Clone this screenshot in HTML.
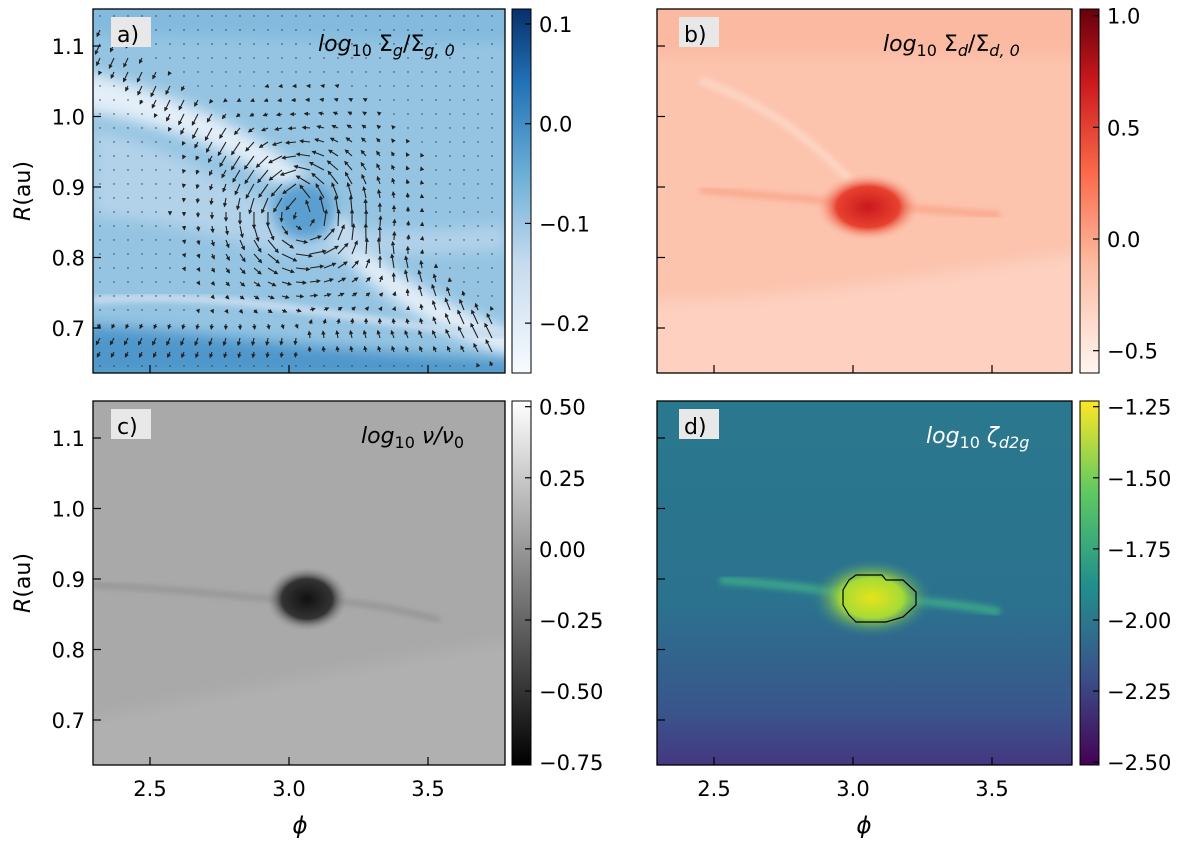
<!DOCTYPE html>
<html><head><meta charset="utf-8"><style>
body{margin:0;background:#fff;width:1200px;height:843px;overflow:hidden}
svg text{font-family:"DejaVu Sans","Liberation Sans",sans-serif}
</style></head><body>
<svg id="fig" width="1200" height="843" viewBox="0 0 1200 843" xmlns="http://www.w3.org/2000/svg">
<defs>
<linearGradient id="cbBlue" x1="0" y1="1" x2="0" y2="0"><stop offset="0" stop-color="#f7fbff"/><stop offset="0.3" stop-color="#c6dbef"/><stop offset="0.55" stop-color="#6baed6"/><stop offset="0.8" stop-color="#2171b5"/><stop offset="1" stop-color="#08306b"/></linearGradient>
<linearGradient id="cbRed" x1="0" y1="1" x2="0" y2="0"><stop offset="0" stop-color="#fff5f0"/><stop offset="0.3" stop-color="#fcbba1"/><stop offset="0.55" stop-color="#fb6a4a"/><stop offset="0.8" stop-color="#cb181d"/><stop offset="1" stop-color="#67000d"/></linearGradient>
<linearGradient id="cbGray" x1="0" y1="1" x2="0" y2="0"><stop offset="0" stop-color="#000"/><stop offset="1" stop-color="#fff"/></linearGradient>
<linearGradient id="cbVir" x1="0" y1="1" x2="0" y2="0"><stop offset="0" stop-color="#440154"/><stop offset="0.25" stop-color="#3b528b"/><stop offset="0.5" stop-color="#21918c"/><stop offset="0.75" stop-color="#5ec962"/><stop offset="1" stop-color="#fde725"/></linearGradient>
<linearGradient id="bgD" x1="0" y1="0" x2="0" y2="1"><stop offset="0" stop-color="#2a788e"/><stop offset="0.55" stop-color="#2b728e"/><stop offset="0.85" stop-color="#39568c"/><stop offset="1" stop-color="#453781"/></linearGradient>
<radialGradient id="blobB"><stop offset="0" stop-color="#c9181d"/><stop offset="0.6" stop-color="#e8412f"/><stop offset="1" stop-color="#fcbba1" stop-opacity="0"/></radialGradient>
<radialGradient id="blobC"><stop offset="0" stop-color="#111"/><stop offset="0.6" stop-color="#333"/><stop offset="1" stop-color="#a8a8a8" stop-opacity="0"/></radialGradient>
<radialGradient id="blobD"><stop offset="0" stop-color="#e6e419"/><stop offset="0.5" stop-color="#a5db36"/><stop offset="1" stop-color="#2a788e" stop-opacity="0"/></radialGradient>
<clipPath id="clipA"><rect x="93" y="9" width="412" height="364"/></clipPath>
<clipPath id="clipB"><rect x="657" y="9" width="415" height="364"/></clipPath>
<clipPath id="clipC"><rect x="93" y="401" width="412" height="364"/></clipPath>
<clipPath id="clipD"><rect x="657" y="401" width="415" height="364"/></clipPath>
<filter id="blur6" x="-20%" y="-20%" width="140%" height="140%"><feGaussianBlur stdDeviation="7"/></filter>
<filter id="blur3"><feGaussianBlur stdDeviation="3"/></filter>
<marker id="ah" markerWidth="4" markerHeight="4" refX="3" refY="2" orient="auto"><path d="M0,0 L4,2 L0,4 z" fill="#222"/></marker>
</defs>

<!-- Panel a -->
<g>
<g clip-path="url(#clipA)">
<rect x="93" y="9" width="412" height="364" fill="#94c4e2"/>
<path d="M80,70 C180,95 250,130 300,170 C330,195 350,240 400,275 C440,300 480,320 520,335 L520,360 C470,345 420,320 380,290 C330,250 310,205 280,185 C230,150 170,125 80,110 Z" fill="#e3eef8" filter="url(#blur6)"/>
<path d="M93,130 C200,150 250,210 330,225 C400,235 450,230 505,225 L505,250 C400,255 300,260 250,245 C200,230 150,220 93,215 Z" fill="#bad6ec" filter="url(#blur6)" opacity="0.8"/>
<path d="M80,325 C200,330 300,350 520,360 L520,380 L80,380 Z" fill="#4f97cb" filter="url(#blur6)"/>
<path d="M93,300 C250,290 330,320 505,335" stroke="#c6dbef" stroke-width="8" fill="none" filter="url(#blur3)"/>
<ellipse cx="305" cy="210" rx="32" ry="30" fill="#5a9fd0" filter="url(#blur6)"/>
<path d="M80,0 L520,0 L520,40 C400,45 300,35 80,35Z" fill="#7bb6dc" filter="url(#blur6)" opacity="0.7"/>
<g id="quiver"></g>
</g>
<rect x="93" y="9" width="412" height="364" fill="none" stroke="#000" stroke-width="1.3"/>
<rect x="111" y="17" width="40" height="30" fill="#e8e8e8"/>
<text x="117" y="42" font-size="22" font-family="Liberation Serif">a)</text>
<text x="318" y="51" font-size="22"><tspan font-style="italic">log</tspan><tspan font-size="16" dy="5">10</tspan><tspan dy="-5"> Σ</tspan><tspan font-size="16" dy="5" font-style="italic">g</tspan><tspan dy="-5">/Σ</tspan><tspan font-size="16" dy="5" font-style="italic">g, 0</tspan></text>
<rect x="512" y="9" width="19" height="364" fill="url(#cbBlue)" stroke="#000"/>
</g>

<!-- Panel b -->
<g>
<g clip-path="url(#clipB)">
<rect x="657" y="9" width="415" height="364" fill="#fcc3ad"/>
<path d="M640,0 L1090,0 L1090,55 L640,55Z" fill="#fbb9a2" filter="url(#blur6)"/>
<path d="M640,300 C800,300 950,270 1090,250 L1090,390 L640,390Z" fill="#fdd0bf" filter="url(#blur6)"/>
<path d="M700,80 C780,110 820,150 850,180" stroke="#fdd5c5" stroke-width="8" fill="none" filter="url(#blur3)"/>
<path d="M700,190 C800,198 900,208 1000,215" stroke="#f9a68a" stroke-width="6" fill="none" filter="url(#blur3)"/>
<ellipse cx="868" cy="207" rx="52" ry="34" fill="url(#blobB)"/>
</g>
<rect x="657" y="9" width="415" height="364" fill="none" stroke="#000" stroke-width="1.3"/>
<rect x="679" y="17" width="40" height="30" fill="#e8e8e8"/>
<text x="684" y="42" font-size="22" font-family="Liberation Serif">b)</text>
<text x="883" y="51" font-size="22"><tspan font-style="italic">log</tspan><tspan font-size="16" dy="5">10</tspan><tspan dy="-5"> Σ</tspan><tspan font-size="16" dy="5" font-style="italic">d</tspan><tspan dy="-5">/Σ</tspan><tspan font-size="16" dy="5" font-style="italic">d, 0</tspan></text>
<rect x="1080" y="9" width="19" height="364" fill="url(#cbRed)" stroke="#000"/>
</g>

<!-- Panel c -->
<g>
<g clip-path="url(#clipC)">
<rect x="93" y="401" width="412" height="364" fill="#a9a9a9"/>
<path d="M80,720 C250,690 380,660 520,640 L520,780 L80,780Z" fill="#b0b0b0" filter="url(#blur6)"/>
<path d="M93,585 C200,590 260,600 300,600 C360,600 400,610 440,620" stroke="#939393" stroke-width="5" fill="none" filter="url(#blur3)"/>
<ellipse cx="307" cy="599" rx="42" ry="33" fill="url(#blobC)"/>
</g>
<rect x="93" y="401" width="412" height="364" fill="none" stroke="#000" stroke-width="1.3"/>
<rect x="111" y="409" width="40" height="30" fill="#e8e8e8"/>
<text x="117" y="434" font-size="22" font-family="Liberation Serif">c)</text>
<text x="361" y="443" font-size="22"><tspan font-style="italic">log</tspan><tspan font-size="16" dy="5">10</tspan><tspan dy="-5" font-style="italic"> ν/ν</tspan><tspan font-size="16" dy="5">0</tspan></text>
<rect x="512" y="401" width="19" height="364" fill="url(#cbGray)" stroke="#000"/>
</g>

<!-- Panel d -->
<g>
<g clip-path="url(#clipD)">
<rect x="657" y="401" width="415" height="364" fill="url(#bgD)"/>
<path d="M720,580 C800,585 850,595 880,598 C940,602 980,608 1000,612" stroke="#3aa58a" stroke-width="8" fill="none" filter="url(#blur3)"/>
<ellipse cx="872" cy="598" rx="62" ry="40" fill="url(#blobD)"/>
<path d="M856,575 L882,575 L886,580 L903,580 L916,592 L916,605 L903,617 L886,622 L856,622 L849,615 L843,605 L843,590 L849,580 Z" fill="none" stroke="#000" stroke-width="1.2"/>
</g>
<rect x="657" y="401" width="415" height="364" fill="none" stroke="#000" stroke-width="1.3"/>
<rect x="679" y="409" width="40" height="30" fill="#e8e8e8"/>
<text x="684" y="434" font-size="22" font-family="Liberation Serif">d)</text>
<text x="926" y="443" font-size="22" fill="#fff"><tspan font-style="italic">log</tspan><tspan font-size="16" dy="5">10</tspan><tspan dy="-5" font-style="italic"> ζ</tspan><tspan font-size="16" dy="5" font-style="italic">d2g</tspan></text>
<rect x="1080" y="401" width="19" height="364" fill="url(#cbVir)" stroke="#000"/>
</g>
<g id="axes"></g>
</svg>
<script>
const xTicks=[2.5,3.0,3.5];
const yTicks=[0.7,0.8,0.9,1.0,1.1];
const cbA=[0.1,0.0,-0.1,-0.2];const cbARange=[-0.25,0.115];
const cbB=[1.0,0.5,0.0,-0.5];const cbBRange=[-0.6,1.03];
const cbC=[0.50,0.25,0.00,-0.25,-0.50,-0.75];const cbCRange=[-0.76,0.52];
const cbD=[-1.25,-1.50,-1.75,-2.00,-2.25,-2.50];const cbDRange=[-2.51,-1.23];
const NS='http://www.w3.org/2000/svg';
const ax=document.getElementById('axes');
function xs(v,x0){return x0+(v-2.5)*278+57;}
function ys(v,y0){return y0+(1.1-v)*705+37;}
function mk(tag,a,txt){const e=document.createElementNS(NS,tag);for(const k in a)e.setAttribute(k,a[k]);if(txt!==undefined)e.textContent=txt;ax.appendChild(e);return e;}
const fmt=v=>(v<0?'\u2212':'')+Math.abs(v).toFixed(1);
const fmt2=v=>(v<0?'\u2212':'')+Math.abs(v).toFixed(2);
const panels=[[93,9,true,true],[657,9,false,true],[93,401,true,false],[657,401,false,false]];
panels.forEach(([x0,y0,left,top])=>{
 xTicks.forEach(v=>{const x=xs(v,x0);
  let t=mk('line',{x1:x,x2:x,y1:y0+364,y2:y0+356,stroke:'#000','stroke-width':1.2});
  
  if(!top){let l=mk('text',{x:x,y:y0+395,'font-size':21,'text-anchor':'middle'},v.toFixed(1));
  }});
 yTicks.forEach(v=>{const y=ys(v,y0);
  let t=mk('line',{x1:x0,x2:x0+8,y1:y,y2:y,stroke:'#000','stroke-width':1.2});
  
  if(left){let l=mk('text',{x:x0-8,y:y+8,'font-size':21,'text-anchor':'end'},v.toFixed(1));
  }});
 if(left){let t=mk('text',{x:30,y:y0+182,'font-size':22,'text-anchor':'middle',transform:`rotate(-90 30 ${y0+182})`});
  t.innerHTML='<tspan font-style="italic">R</tspan>(au)';
  }
 if(!top){let t=mk('text',{x:x0+207,y:y0+432,'font-size':23,'text-anchor':'middle','font-style':'italic'},'\u03d5');
  }
});
function cbar(ticks,range,x0,y0,f){ticks.forEach(v=>{const y=y0+364-(v-range[0])/(range[1]-range[0])*364;
 let t=mk('line',{x1:x0+19,x2:x0+13,y1:y,y2:y,stroke:'#000','stroke-width':1.2});
 
 let l=mk('text',{x:x0+27,y:y+8,'font-size':21},f(v));
 });}
cbar(cbA,cbARange,512,9,fmt);cbar(cbB,cbBRange,1080,9,fmt);cbar(cbC,cbCRange,512,401,fmt2);cbar(cbD,cbDRange,1080,401,fmt2);
// quiver (decorative vortex field)
const q=document.getElementById('quiver');
const cx=302,cy=212;
for(let gx=100;gx<505;gx+=14){for(let gy=16;gy<373;gy+=14){
 const dx=gx-cx,dy=gy-cy,r=Math.hypot(dx,dy)+1;
 let s=r<45?r/45:Math.exp(-(r-45)/45);
 let u=dy/r*s,v=-dx/r*s;
 const band=Math.exp(-Math.pow((gy-(40+(gx-93)*0.75))/22,2));
 u+=-0.25*band;v+=0.55*band*(gx<300?1:-1);
 const bot=Math.exp(-Math.pow((gy-340)/22,2))*0.7;u+=-0.3*bot;v+=-0.5*bot*(gx<300?-1:1);
 const L=Math.min(16,Math.hypot(u,v)*18);
 if(L<2.5){const d=document.createElementNS(NS,'circle');d.setAttribute('cx',gx);d.setAttribute('cy',gy);d.setAttribute('r',0.7);d.setAttribute('fill','#333');
 
 q.appendChild(d);continue;}
 const m=Math.hypot(u,v);const ex=gx+u/m*L,ey=gy+v/m*L;
 const a=document.createElementNS(NS,'line');
 a.setAttribute('x1',gx);a.setAttribute('y1',gy);a.setAttribute('x2',ex);a.setAttribute('y2',ey);
 a.setAttribute('stroke','#222');a.setAttribute('stroke-width',1.1);a.setAttribute('marker-end','url(#ah)');
 
 
 q.appendChild(a);}}
</script>
</body></html>
